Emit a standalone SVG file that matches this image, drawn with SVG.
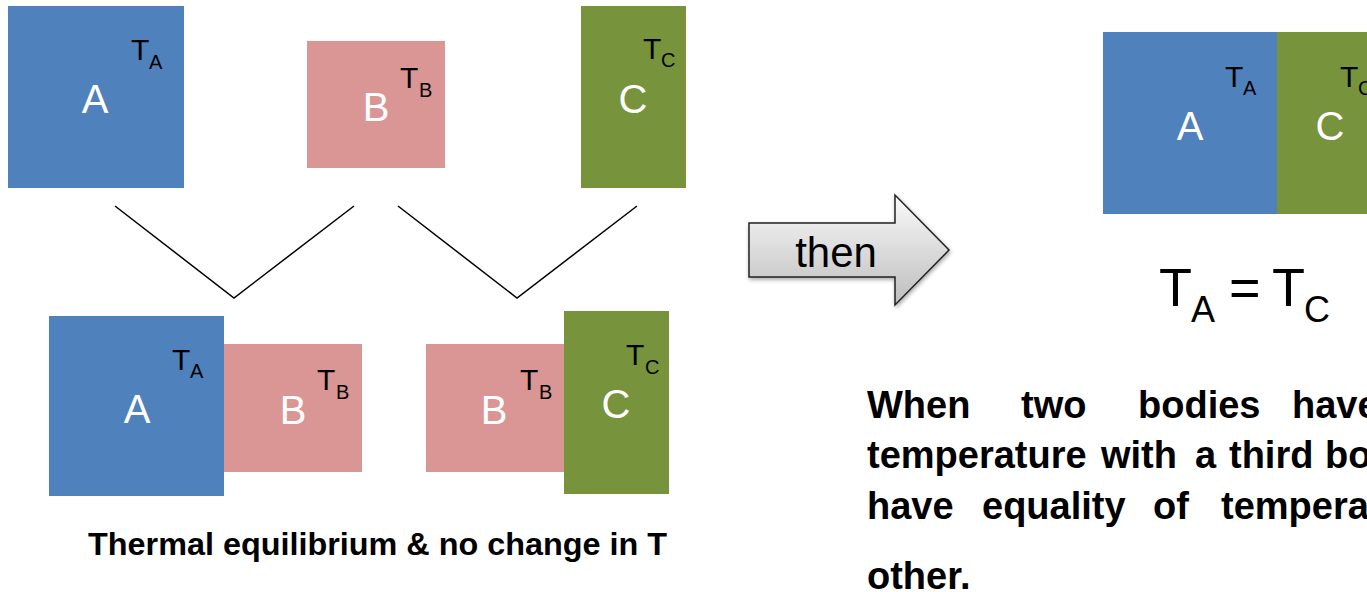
<svg xmlns="http://www.w3.org/2000/svg" width="1367" height="592" viewBox="0 0 1367 592">
<style>
.a{fill:#4F81BD}.b{fill:#D99694}.c{fill:#77933C}
.big{font-family:"Liberation Sans",Arial,sans-serif;font-size:40px;fill:#fff;text-anchor:middle}
.t{font-family:"Liberation Sans",Arial,sans-serif;font-size:30px;fill:#000}
.s{font-size:20px}
.ln{stroke:#000;stroke-width:1.5;fill:none}
.bold{font-family:"Liberation Sans",Arial,sans-serif;font-weight:bold;fill:#000}
</style>
<defs>
<linearGradient id="g" x1="0" y1="0" x2="0" y2="1">
<stop offset="0" stop-color="#fafafa"/>
<stop offset="1" stop-color="#bdbdbd"/>
</linearGradient>
<filter id="sh" x="-10%" y="-10%" width="130%" height="130%">
<feGaussianBlur in="SourceAlpha" stdDeviation="2"/>
<feOffset dx="1" dy="2"/>
<feComponentTransfer><feFuncA type="linear" slope="0.35"/></feComponentTransfer>
<feMerge><feMergeNode/><feMergeNode in="SourceGraphic"/></feMerge>
</filter>
</defs>

<g id="topA">
<rect class="a" x="8" y="6" width="176" height="182"/>
<text class="big" x="95" y="113">A</text>
<text class="t"><tspan x="131" y="60">T</tspan><tspan class="s" x="149" y="69">A</tspan></text>
</g>
<g id="topB">
<rect class="b" x="307" y="41" width="138" height="127"/>
<text class="big" x="376" y="121">B</text>
<text class="t"><tspan x="400" y="88">T</tspan><tspan class="s" x="419" y="97">B</tspan></text>
</g>
<g id="topC">
<rect class="c" x="581" y="6" width="105" height="182"/>
<text class="big" x="633" y="113">C</text>
<text class="t"><tspan x="643" y="59">T</tspan><tspan class="s" x="661" y="67">C</tspan></text>
</g>

<g id="connectors">
<polyline class="ln" points="115,206 234,298 354,206"/>
<polyline class="ln" points="398,206 517,298 637,206"/>
</g>

<g id="botAB">
<rect class="a" x="49" y="316" width="175" height="180"/>
<rect class="b" x="224" y="344" width="138" height="128"/>
<text class="big" x="137" y="423">A</text>
<text class="t"><tspan x="172" y="370">T</tspan><tspan class="s" x="190" y="378">A</tspan></text>
<text class="big" x="293" y="424">B</text>
<text class="t"><tspan x="317" y="390">T</tspan><tspan class="s" x="336" y="399">B</tspan></text>
</g>
<g id="botBC">
<rect class="b" x="426" y="344" width="138" height="128"/>
<rect class="c" x="564" y="311" width="105" height="183"/>
<text class="big" x="494" y="424">B</text>
<text class="t"><tspan x="520" y="390">T</tspan><tspan class="s" x="539" y="399">B</tspan></text>
<text class="big" x="616" y="418">C</text>
<text class="t"><tspan x="626" y="365">T</tspan><tspan class="s" x="645" y="374">C</tspan></text>
</g>

<g id="caption">
<text class="bold" x="88" y="555" font-size="32" textLength="579" lengthAdjust="spacingAndGlyphs">Thermal equilibrium &amp; no change in T</text>
</g>

<g id="then">
<path d="M749,223 H895 V195 L949,250 L895,305 V277 H749 Z" fill="url(#g)" stroke="#222" stroke-width="1.5" filter="url(#sh)"/>
<text x="836" y="267" font-family="'Liberation Sans',Arial,sans-serif" font-size="42" fill="#000" text-anchor="middle">then</text>
</g>

<g id="rightAC">
<rect class="a" x="1103" y="32" width="174" height="182"/>
<rect class="c" x="1277" y="32" width="95" height="182"/>
<text class="big" x="1190" y="140">A</text>
<text class="t"><tspan x="1225" y="87">T</tspan><tspan class="s" x="1243" y="95">A</tspan></text>
<text class="big" x="1330" y="140">C</text>
<text class="t"><tspan x="1340" y="87">T</tspan><tspan class="s" x="1358" y="95">C</tspan></text>
</g>

<g id="equation">
<text font-family="'Liberation Sans',Arial,sans-serif" font-size="54" fill="#000"><tspan x="1159" y="306">T</tspan><tspan font-size="36" x="1191" y="322">A</tspan><tspan x="1229" y="306">=</tspan><tspan x="1272" y="306">T</tspan><tspan font-size="36" x="1304" y="322">C</tspan></text>
</g>

<g id="statement" class="bold" font-size="38">
<text x="867" y="418">When</text><text x="1021" y="418">two</text><text x="1138" y="418">bodies</text><text x="1292" y="418">have</text>
<text x="867" y="468">temperature</text><text x="1101" y="468">with</text><text x="1195" y="468">a</text><text x="1229" y="468">third</text><text x="1325" y="468">body</text>
<text x="867" y="519">have</text><text x="982" y="519">equality</text><text x="1153" y="519">of</text><text x="1221" y="519">temperature</text>
<text x="867" y="589">other.</text>
</g>
</svg>
